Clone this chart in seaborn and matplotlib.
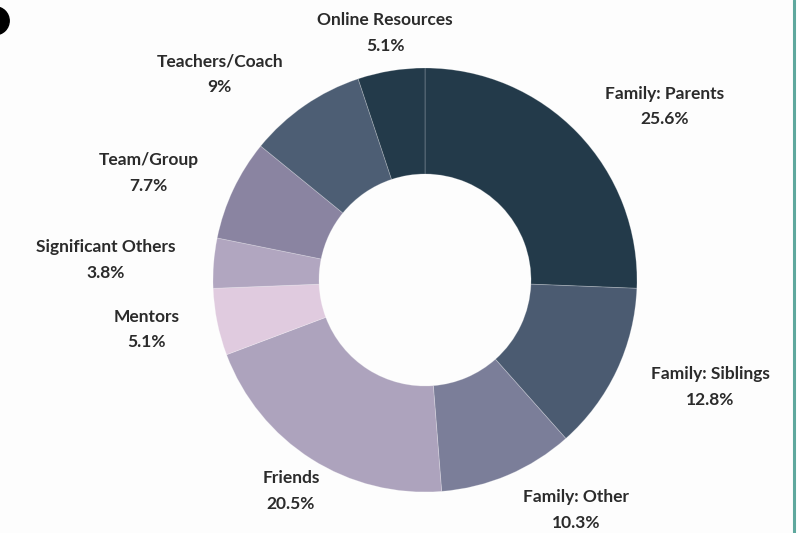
import matplotlib
matplotlib.use("Agg")
import matplotlib.pyplot as plt
import seaborn as sns
from matplotlib.patches import Ellipse
from matplotlib.lines import Line2D

sns.set_theme(style="white")
plt.rcParams['font.family'] = ['Lato', 'DejaVu Sans']

# data
categories = ['Family: Parents', 'Family: Siblings', 'Family: Other', 'Friends', 'Mentors',
              'Significant Others', 'Team/Group', 'Teachers/Coach', 'Online Resources']
shares = [25.6, 12.8, 10.3, 20.5, 5.1, 3.8, 7.7, 9.0, 5.1]
share_text = ['25.6%', '12.8%', '10.3%', '20.5%', '5.1%', '3.8%', '7.7%', '9%', '5.1%']
colors = ['#233a4a', '#4b5b71', '#7b7e99', '#ada3bd', '#e0cbdf',
          '#b1a6c0', '#8a84a1', '#4d5e74', '#233a4a']
label_ha = ['left', 'left', 'left', 'center', 'right', 'right', 'right', 'right', 'center']

fig = plt.figure(figsize=(8.02, 5.33), dpi=100)
fig.patch.set_facecolor('#fdfdfd')
ax = fig.add_axes([213 / 802, (533 - 280 - 212) / 533, 424 / 802, 424 / 533])

labels = [c + '\n' + t for c, t in zip(categories, share_text)]
wedges, texts = ax.pie(shares, labels=labels, colors=colors, startangle=90, counterclock=False,
                       labeldistance=1.18, radius=1,
                       wedgeprops=dict(width=0.5, edgecolor=(1, 1, 1, 0.25), linewidth=0.6),
                       textprops=dict(fontsize=12.5, fontweight='bold', color='#2b2b2b',
                                      linespacing=1.75))
for t, ha in zip(texts, label_ha):
    t.set_ha(ha)
    t.set_multialignment('center')
ax.set_xlim(-1, 1)
ax.set_ylim(-1, 1)
ax.set_aspect('equal')
ax.axis('off')

# decorations from the page
fig.add_artist(Ellipse((-0.006, 0.961), 28 / 802, 28 / 533, transform=fig.transFigure,
                       color='black', clip_on=False))
fig.add_artist(Line2D([794 / 802, 794 / 802], [0, 1], transform=fig.transFigure,
                      color='#5fa89e', linewidth=2.2))
fig.add_artist(plt.Rectangle((796 / 802, 0), 6 / 802, 1, transform=fig.transFigure,
                             color='white'))

fig.savefig('out.png', dpi=100, facecolor=fig.get_facecolor())
